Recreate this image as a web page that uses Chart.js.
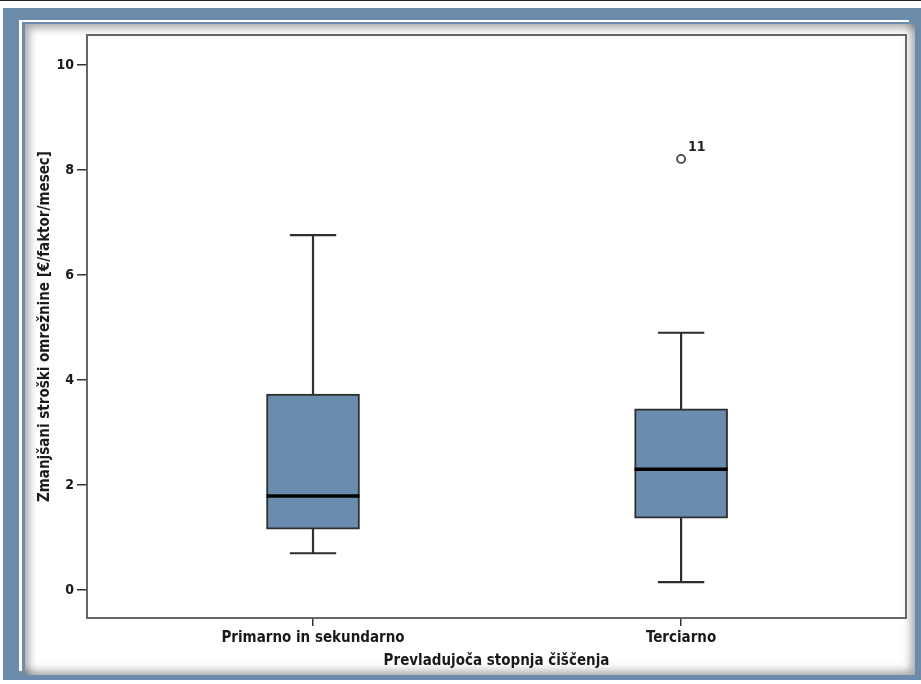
<!DOCTYPE html>
<html>
<head>
<meta charset="utf-8">
<script src="https://cdn.jsdelivr.net/npm/chart.js@4"></script>
<style>
  body { margin: 0; background: #fff; width: 921px; height: 684px; overflow: hidden; position: relative; }
  #topline { position: absolute; left: 0; top: 0; width: 921px; height: 1px; background: #222; }
  #frame { position: absolute; left: 3px; top: 8px; width: 930px; height: 672px; background: #6b8cab; }
  #panel {
    position: absolute; left: 25px; top: 24px; width: 890px; height: 651px; background: #fff;
    box-shadow: inset 9px 9px 9px -5px rgba(0,0,0,0.35), inset -9px -9px 9px -5px rgba(0,0,0,0.35),
                -3px -2px 0 0 #6b8cab, -6px -4px 0 0 #fff;
  }
  #wrap { position: absolute; left: 0; top: 0; width: 921px; height: 684px; }
</style>
</head>
<body>
<div id="topline"></div>
<div id="frame"></div>
<div id="panel"></div>
<div id="wrap"><canvas id="chart" width="921" height="684"></canvas></div>
<script>
// box plot values
const categories = ["Primarno in sekundarno", "Terciarno"];
const whiskerLow = [0.70, 0.15];
const q1 = [1.16, 1.37];
const median = [1.79, 2.30];
const q3 = [3.73, 3.45];
const whiskerHigh = [6.76, 4.90];
// outliers: group index, value, case label
const outlierGroup = [1];
const outlierValues = [8.21];
const outlierLabels = ["11"];
const yTicks = [0, 2, 4, 6, 8, 10];

const FONT = '"Liberation Sans Narrow", "DejaVu Sans Condensed", sans-serif';
const boxHalf = 0.1264; // half box width, in category units
const capHalf = 0.063;

Chart.defaults.font.family = FONT;
Chart.defaults.color = "#1a1a1a";

// whisker stems and caps, split with nulls
const whiskerPts = [];
categories.forEach((c, i) => {
  const x = i + 1;
  whiskerPts.push({ x: x, y: q3[i] }, { x: x, y: whiskerHigh[i] }, { x: x, y: null });
  whiskerPts.push({ x: x - capHalf, y: whiskerHigh[i] }, { x: x + capHalf, y: whiskerHigh[i] }, { x: x, y: null });
  whiskerPts.push({ x: x, y: q1[i] }, { x: x, y: whiskerLow[i] }, { x: x, y: null });
  whiskerPts.push({ x: x - capHalf, y: whiskerLow[i] }, { x: x + capHalf, y: whiskerLow[i] }, { x: x, y: null });
});

const medianPts = [];
categories.forEach((c, i) => {
  medianPts.push({ x: i + 1 - boxHalf, y: median[i] }, { x: i + 1 + boxHalf, y: median[i] }, { x: i + 1, y: null });
});

const frameRect = {
  id: "frameRect",
  afterDraw(chart) {
    const a = chart.chartArea;
    const ctx = chart.ctx;
    ctx.save();
    ctx.strokeStyle = "#666";
    ctx.lineWidth = 2;
    ctx.strokeRect(a.left, a.top, a.right - a.left, a.bottom - a.top);
    ctx.restore();
  }
};

const outlierText = {
  id: "outlierText",
  afterDatasetsDraw(chart) {
    const meta = chart.getDatasetMeta(3);
    const ctx = chart.ctx;
    ctx.save();
    ctx.font = "bold 14px " + FONT;
    ctx.fillStyle = "#222";
    ctx.textBaseline = "middle";
    meta.data.forEach((pt, k) => {
      ctx.fillText(outlierLabels[k], pt.x + 7, pt.y - 12);
    });
    ctx.restore();
  }
};

new Chart(document.getElementById("chart"), {
  type: "bar",
  data: {
    datasets: [
      {
        type: "bar",
        data: categories.map((c, i) => ({ x: i + 1, y: [q1[i], q3[i]] })),
        backgroundColor: "#6a8cae",
        borderColor: "#2e2e2e",
        borderWidth: 2,
        borderSkipped: false,
        barThickness: 93,
        order: 4
      },
      {
        type: "line",
        data: whiskerPts,
        borderColor: "#2e2e2e",
        borderWidth: 2.2,
        pointRadius: 0,
        spanGaps: false,
        order: 3
      },
      {
        type: "line",
        data: medianPts,
        borderColor: "#000",
        borderWidth: 3.5,
        pointRadius: 0,
        spanGaps: false,
        order: 2
      },
      {
        type: "scatter",
        data: outlierValues.map((v, k) => ({ x: outlierGroup[k] + 1, y: v })),
        pointRadius: 4,
        borderColor: "#444",
        backgroundColor: "#fff",
        borderWidth: 1.8,
        order: 1
      }
    ]
  },
  options: {
    responsive: false,
    animation: false,
    layout: { padding: { top: 35, right: 15, bottom: 0, left: 0 } },
    plugins: { legend: { display: false }, tooltip: { enabled: false } },
    scales: {
      x: {
        type: "linear",
        offset: false,
        min: 0.386,
        max: 2.611,
        afterBuildTicks: (s) => { s.ticks = categories.map((c, i) => ({ value: i + 1 })); },
        afterFit: (s) => { s.height = 66; },
        ticks: {
          callback: (v) => categories[v - 1],
          font: { size: 15, weight: "bold" },
          padding: 3,
          maxRotation: 0
        },
        grid: { offset: false, drawOnChartArea: false, drawTicks: true, tickLength: 8, color: "#333", lineWidth: 1.5 },
        border: { display: false },
        title: {
          display: true,
          text: "Prevladujoča stopnja čiščenja",
          font: { size: 15, weight: "bold" },
          padding: { top: 0, bottom: 14 }
        }
      },
      y: {
        min: -0.533,
        max: 10.571,
        afterBuildTicks: (s) => { s.ticks = yTicks.map((v) => ({ value: v })); },
        afterFit: (s) => { s.width = 87; },
        ticks: { font: { size: 14, weight: "bold" }, padding: 3 },
        grid: { drawOnChartArea: false, drawTicks: true, tickLength: 10, color: "#333", lineWidth: 1.5 },
        border: { display: false },
        title: {
          display: true,
          text: "Zmanjšani stroški omrežnine [€/faktor/mesec]",
          font: { size: 15, weight: "bold" },
          padding: { top: 36, bottom: 0 }
        }
      }
    }
  },
  plugins: [frameRect, outlierText]
});
</script>
</body>
</html>
